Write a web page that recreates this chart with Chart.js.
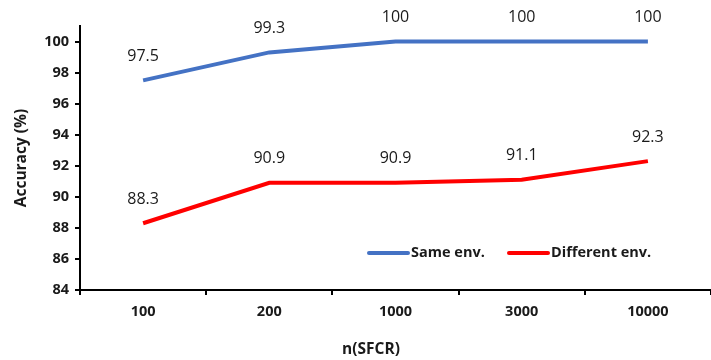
<!DOCTYPE html>
<html>
<head>
<meta charset="utf-8">
<script src="https://cdn.jsdelivr.net/npm/chart.js@4/dist/chart.umd.min.js"></script>
<style>
  html, body { margin: 0; padding: 0; background: #fff; }
  #wrap { width: 711px; height: 360px; position: relative; }
</style>
</head>
<body>
<div id="wrap"><canvas id="accChart" width="711" height="360"></canvas></div>
<script>
// Accuracy vs. number of SFCR samples
const sfcrCounts = ["100", "200", "1000", "3000", "10000"];
const sameEnv = [97.5, 99.3, 100, 100, 100];
const diffEnv = [88.3, 90.9, 90.9, 91.1, 92.3];
const yTicks = [84, 86, 88, 90, 92, 94, 96, 98, 100];

const FONT = "'Open Sans', 'Liberation Sans', sans-serif";
const TEXT = "#1a1a1a";

// value labels above each point
const valueLabels = {
  id: "valueLabels",
  afterDatasetsDraw(chart) {
    const ctx = chart.ctx;
    ctx.save();
    ctx.font = "16px " + FONT;
    ctx.fillStyle = TEXT;
    ctx.textAlign = "center";
    ctx.textBaseline = "middle";
    chart.data.datasets.forEach((ds, i) => {
      chart.getDatasetMeta(i).data.forEach((pt, j) => {
        ctx.fillText(String(ds.data[j]), pt.x, pt.y - 24);
      });
    });
    ctx.restore();
  }
};

// legend inside the plot and the two axis titles
const extras = {
  id: "extras",
  afterDraw(chart) {
    const ctx = chart.ctx;
    const area = chart.chartArea;
    ctx.save();
    ctx.font = "bold 14.5px " + FONT;
    ctx.fillStyle = TEXT;
    ctx.textBaseline = "middle";
    const items = [{ x: 369 }, { x: 509 }];
    chart.data.datasets.forEach((ds, i) => {
      const x = items[i].x, y = 253;
      ctx.strokeStyle = ds.borderColor;
      ctx.lineWidth = 4;
      ctx.lineCap = "round";
      ctx.beginPath();
      ctx.moveTo(x, y);
      ctx.lineTo(x + 39, y);
      ctx.stroke();
      ctx.textAlign = "left";
      ctx.fillText(ds.label, x + 42, y);
    });
    ctx.textAlign = "center";
    ctx.font = "bold 15.5px " + FONT;
    ctx.fillText("n(SFCR)", 371, 350);
    ctx.translate(22, (area.top + area.bottom) / 2);
    ctx.rotate(-Math.PI / 2);
    ctx.fillText("Accuracy (%)", 0, 0);
    ctx.restore();
  }
};

new Chart(document.getElementById("accChart"), {
  type: "line",
  data: {
    labels: sfcrCounts,
    datasets: [
      { label: "Same env.", data: sameEnv, borderColor: "#4472C4", backgroundColor: "#4472C4",
        borderWidth: 4, pointRadius: 0, tension: 0 },
      { label: "Different env.", data: diffEnv, borderColor: "#FF0000", backgroundColor: "#FF0000",
        borderWidth: 4, pointRadius: 0, tension: 0 }
    ]
  },
  options: {
    responsive: false,
    animation: false,
    layout: { padding: { top: 26, right: 0, left: 0, bottom: 0 } },
    plugins: { legend: { display: false }, tooltip: { enabled: false } },
    scales: {
      x: {
        offset: true,
        grid: { offset: true, drawOnChartArea: false, color: "#000", tickLength: 5, lineWidth: 2 },
        border: { color: "#000", width: 2 },
        ticks: { color: TEXT, font: { family: FONT, size: 14.5, weight: "bold" }, padding: 8 },
        afterFit(s) { s.height = 70; }
      },
      y: {
        min: 84,
        max: 101,
        afterBuildTicks(s) { s.ticks = yTicks.map(v => ({ value: v })); },
        grid: { drawOnChartArea: false, color: "#000", tickLength: 5, lineWidth: 2 },
        border: { color: "#000", width: 2 },
        ticks: { color: TEXT, font: { family: FONT, size: 14.5, weight: "bold" }, padding: 6 },
        afterFit(s) { s.width = 80; }
      }
    }
  },
  plugins: [valueLabels, extras]
});
</script>
</body>
</html>
